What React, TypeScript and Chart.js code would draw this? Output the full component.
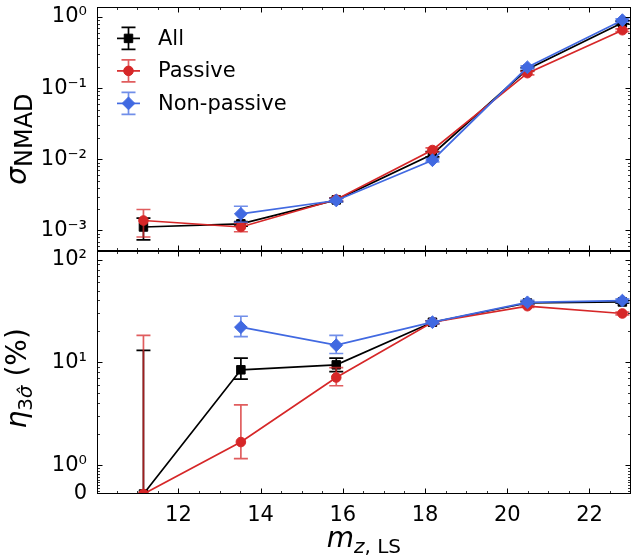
import React, { useEffect, useRef } from 'react';
import { Chart, registerables, Scale } from 'chart.js';

// ---------------- data ----------------
const X_VALUES = [11.15, 13.52, 15.84, 18.18, 20.49, 22.8];
const X_TICKS = [12, 14, 16, 18, 20, 22];

const SIG_TICKS = [1e-3, 1e-2, 1e-1, 1];
const SIG_TICK_LABELS = ['10⁻³', '10⁻²', '10⁻¹', '10⁰'];
const ETA_TICKS = [0, 1, 10, 100];
const ETA_TICK_LABELS = ['0', '10⁰', '10¹', '10²'];

const SERIES_LABELS = ['All', 'Passive', 'Non-passive'];

// sigma_NMAD (top panel)
const SIG_ALL = [0.00112, 0.00124, 0.00269, 0.0118, 0.184, 0.83];
const SIG_ALL_LO = [0.00074, 0.00115, 0.00255, 0.0108, 0.175, 0.8];
const SIG_ALL_HI = [0.00149, 0.00133, 0.00285, 0.0128, 0.194, 0.87];

const SIG_PAS = [0.00138, 0.00112, 0.00272, 0.0135, 0.162, 0.65];
const SIG_PAS_LO = [0.00081, 0.00096, 0.0026, 0.0127, 0.153, 0.62];
const SIG_PAS_HI = [0.00197, 0.00127, 0.00285, 0.0145, 0.172, 0.68];

const SIG_NON = [null, 0.00171, 0.00264, 0.0097, 0.196, 0.9];
const SIG_NON_LO = [null, 0.00131, 0.0025, 0.0092, 0.186, 0.86];
const SIG_NON_HI = [null, 0.00219, 0.0028, 0.0102, 0.206, 0.94];

// eta_3sigma (%) (bottom panel)
const ETA_ALL = [0, 8.47, 9.46, 24.6, 37.8, 38.7];
const ETA_ALL_LO = [0, 6.88, 8.15, 23.8, 36.6, 37.6];
const ETA_ALL_HI = [13.1, 11.0, 11.0, 25.4, 39.0, 39.8];

const ETA_PAS = [0, 1.68, 7.13, 24.6, 35.2, 29.9];
const ETA_PAS_LO = [0, 1.16, 5.93, 23.8, 34.2, 29.0];
const ETA_PAS_HI = [18.3, 3.86, 8.9, 25.4, 36.3, 30.8];

const ETA_NON = [null, 22.0, 14.7, 24.6, 38.4, 39.9];
const ETA_NON_LO = [null, 17.8, 12.2, 23.8, 36.8, 38.4];
const ETA_NON_HI = [null, 28.1, 18.3, 25.4, 40.1, 41.5];

// ---------------- styling ----------------
const FONT = "'DejaVu Sans', sans-serif";
const BLACK = '#000000';
const RED = '#d62728';
const BLUE = '#4169e1';
const RED_ERR = 'rgba(214,39,40,0.75)';
const BLUE_ERR = 'rgba(65,105,225,0.75)';
const CAP = 7;
const LINE_W = 1.7;
const R_SQ = 6;
const R_CI = 4.8;
const R_DI = 6.4;

// ---------------- symlog scale ----------------
const LIN_FRAC = 0.28;
const symT = (v: number) => {
  const a = Math.abs(v);
  return a <= 1 ? v * LIN_FRAC : Math.sign(v) * (LIN_FRAC + Math.log10(a));
};
const symInv = (t: number) => {
  const a = Math.abs(t);
  return a <= LIN_FRAC ? t / LIN_FRAC : Math.sign(t) * Math.pow(10, a - LIN_FRAC);
};

class SymlogScale extends Scale {
  static id = 'symlog';
  static defaults = {};
  parse(raw: any) {
    if (raw === null || raw === undefined) return null;
    const v = +raw;
    return Number.isFinite(v) ? v : null;
  }
  determineDataLimits() {
    const { min, max } = (this as any).getMinMax(true);
    (this as any).min = Number.isFinite(min) ? min : 0;
    (this as any).max = Number.isFinite(max) ? max : 1;
  }
  buildTicks() {
    return [{ value: (this as any).min }, { value: (this as any).max }];
  }
  getLabelForValue(v: number) {
    return String(v);
  }
  getPixelForValue(v: number) {
    const t0 = symT((this as any).min);
    const t1 = symT((this as any).max);
    return (this as any).getPixelForDecimal((symT(v) - t0) / (t1 - t0));
  }
  getValueForPixel(p: number) {
    const t0 = symT((this as any).min);
    const t1 = symT((this as any).max);
    return symInv(t0 + (this as any).getDecimalForPixel(p) * (t1 - t0));
  }
}

Chart.register(...registerables, SymlogScale as any);

// ---------------- helpers ----------------
function drawMarker(ctx: CanvasRenderingContext2D, style: string, x: number, y: number, r: number, color: string) {
  ctx.beginPath();
  if (style === 'rect') {
    const s = r * Math.SQRT1_2;
    ctx.rect(x - s, y - s, 2 * s, 2 * s);
  } else if (style === 'rectRot') {
    ctx.moveTo(x, y - r);
    ctx.lineTo(x + r, y);
    ctx.lineTo(x, y + r);
    ctx.lineTo(x - r, y);
    ctx.closePath();
  } else {
    ctx.arc(x, y, r, 0, Math.PI * 2);
  }
  ctx.fillStyle = color;
  ctx.fill();
  ctx.lineWidth = 1;
  ctx.strokeStyle = color;
  ctx.stroke();
}

type Part = { text: string; font: string; dy?: number };
function partsWidth(ctx: CanvasRenderingContext2D, parts: Part[]) {
  let w = 0;
  for (const p of parts) {
    ctx.font = p.font;
    w += ctx.measureText(p.text).width;
  }
  return w;
}
function drawParts(ctx: CanvasRenderingContext2D, parts: Part[], x0: number, base: number) {
  let x = x0;
  ctx.textBaseline = 'alphabetic';
  ctx.textAlign = 'left';
  for (const p of parts) {
    ctx.font = p.font;
    ctx.fillText(p.text, x, base + (p.dy || 0));
    x += ctx.measureText(p.text).width;
  }
}

const BIG = 28;
const SUB = 20;
const SUB_DY = 6;

// ---------------- plugins ----------------
const errorBarPlugin = {
  id: 'errorBars',
  beforeDatasetDraw(chart: any, args: any) {
    const ds = chart.data.datasets[args.index];
    if (!ds.errLo) return;
    const xs = args.meta.xScale;
    const ys = args.meta.yScale;
    const ctx: CanvasRenderingContext2D = chart.ctx;
    ctx.save();
    ctx.beginPath();
    ctx.rect(xs.left, ys.top, xs.right - xs.left, ys.bottom - ys.top);
    ctx.clip();
    ctx.strokeStyle = ds.errColor;
    ctx.lineWidth = LINE_W;
    ctx.beginPath();
    ds.data.forEach((p: any, i: number) => {
      const lo = ds.errLo[i];
      const hi = ds.errHi[i];
      if (p.y == null || lo == null || hi == null) return;
      const px = xs.getPixelForValue(p.x);
      const y1 = ys.getPixelForValue(lo);
      const y2 = ys.getPixelForValue(hi);
      ctx.moveTo(px, y1);
      ctx.lineTo(px, y2);
      ctx.moveTo(px - CAP, y1);
      ctx.lineTo(px + CAP, y1);
      ctx.moveTo(px - CAP, y2);
      ctx.lineTo(px + CAP, y2);
    });
    ctx.stroke();
    ctx.restore();
  },
};

const decorPlugin = {
  id: 'decor',
  afterDraw(chart: any) {
    const ctx: CanvasRenderingContext2D = chart.ctx;
    const xs = chart.scales.x;
    const yT = chart.scales.yTop;
    const yB = chart.scales.yBot;
    const L = Math.round(xs.left) + 0.5;
    const R = Math.round(xs.right) - 0.5;
    ctx.save();
    ctx.strokeStyle = BLACK;

    const panels = [yT, yB];
    // frames
    ctx.lineWidth = 1;
    for (const ys of panels) {
      const t = Math.round(ys.top) + 0.5;
      const b = Math.round(ys.bottom) - 0.5;
      ctx.strokeRect(L, t, R - L, b - t);
    }

    const MAJ = 5.5;
    const MIN = 3;
    const seg = (x1: number, y1: number, x2: number, y2: number) => {
      ctx.moveTo(x1, y1);
      ctx.lineTo(x2, y2);
    };
    const snap = (v: number) => Math.round(v) + 0.5;

    // x ticks
    const xMinor: number[] = [];
    for (let v = 10.5; v < 23; v += 0.5) if (!X_TICKS.includes(v) && v > xs.min) xMinor.push(v);
    for (const ys of panels) {
      const t = Math.round(ys.top);
      const b = Math.round(ys.bottom);
      ctx.lineWidth = 1;
      ctx.beginPath();
      for (const v of X_TICKS) {
        const px = snap(xs.getPixelForValue(v));
        seg(px, t, px, t + MAJ);
        seg(px, b, px, b - MAJ);
      }
      ctx.stroke();
      ctx.lineWidth = 0.8;
      ctx.beginPath();
      for (const v of xMinor) {
        const px = snap(xs.getPixelForValue(v));
        seg(px, t, px, t + MIN);
        seg(px, b, px, b - MIN);
      }
      ctx.stroke();
    }

    // y ticks
    const Lx = Math.round(xs.left);
    const Rx = Math.round(xs.right);
    const yTicks = (ys: any, majors: number[], minors: number[]) => {
      ctx.lineWidth = 1;
      ctx.beginPath();
      for (const v of majors) {
        const py = ys.getPixelForValue(v);
        if (py < ys.top + 0.5 || py > ys.bottom - 0.5) continue;
        const y = snap(py);
        seg(Lx, y, Lx + MAJ, y);
        seg(Rx, y, Rx - MAJ, y);
      }
      ctx.stroke();
      ctx.lineWidth = 0.8;
      ctx.beginPath();
      for (const v of minors) {
        const py = ys.getPixelForValue(v);
        if (py < ys.top + 0.5 || py > ys.bottom - 0.5) continue;
        const y = snap(py);
        seg(Lx, y, Lx + MIN, y);
        seg(Rx, y, Rx - MIN, y);
      }
      ctx.stroke();
    };
    const topMinor: number[] = [];
    for (let d = -4; d <= 0; d++) for (let k = 2; k <= 9; k++) {
      const v = k * Math.pow(10, d);
      if (v > yT.min && v < yT.max) topMinor.push(v);
    }
    yTicks(yT, SIG_TICKS, topMinor);
    const botMinor: number[] = [];
    for (let k = 1; k <= 9; k++) botMinor.push(k / 10);
    for (let d = 0; d <= 2; d++) for (let k = 2; k <= 9; k++) {
      const v = k * Math.pow(10, d);
      if (v < yB.max) botMinor.push(v);
    }
    yTicks(yB, ETA_TICKS, botMinor);

    // legend
    const styles = ['rect', 'circle', 'rectRot'];
    const colors = [BLACK, RED, BLUE];
    const errColors = [BLACK, RED_ERR, BLUE_ERR];
    const radii = [R_SQ, R_CI, R_DI];
    const hx = xs.left + 31.5;
    SERIES_LABELS.forEach((lab, i) => {
      const y = yT.top + 31 + i * 32.5;
      ctx.lineWidth = LINE_W;
      ctx.strokeStyle = errColors[i];
      ctx.beginPath();
      seg(hx, y - 11, hx, y + 11);
      seg(hx - CAP, y - 11, hx + CAP, y - 11);
      seg(hx - CAP, y + 11, hx + CAP, y + 11);
      ctx.stroke();
      ctx.strokeStyle = colors[i];
      ctx.beginPath();
      seg(hx - 11.5, y, hx + 11.5, y);
      ctx.stroke();
      drawMarker(ctx, styles[i], hx, y, radii[i], colors[i]);
      ctx.fillStyle = BLACK;
      ctx.font = `21px ${FONT}`;
      ctx.textAlign = 'left';
      ctx.textBaseline = 'middle';
      ctx.fillText(lab, hx + 29.5, y + 1);
    });

    // axis titles
    ctx.fillStyle = BLACK;
    const it = (s: number) => `italic ${s}px ${FONT}`;
    const up = (s: number) => `${s}px ${FONT}`;
    const sigParts: Part[] = [
      { text: 'σ', font: it(BIG) },
      { text: 'NMAD', font: up(24), dy: SUB_DY },
    ];
    const etaParts: Part[] = [
      { text: 'η', font: it(BIG) },
      { text: '3', font: up(SUB), dy: SUB_DY },
      { text: 'σ\u0302', font: it(SUB), dy: SUB_DY },
      { text: ' (%)', font: up(BIG) },
    ];
    const mParts: Part[] = [
      { text: 'm', font: it(BIG) },
      { text: 'z', font: it(SUB), dy: SUB_DY },
      { text: ', LS', font: up(SUB), dy: SUB_DY },
    ];
    const rotTitle = (parts: Part[], cy: number) => {
      ctx.save();
      ctx.translate(26, cy);
      ctx.rotate(-Math.PI / 2);
      const w = partsWidth(ctx, parts);
      drawParts(ctx, parts, -w / 2, 0);
      ctx.restore();
    };
    rotTitle(sigParts, (yT.top + yT.bottom) / 2 + 10);
    rotTitle(etaParts, (yB.top + yB.bottom) / 2 + 6);
    const mw = partsWidth(ctx, mParts);
    drawParts(ctx, mParts, (xs.left + xs.right) / 2 - mw / 2, 547);

    ctx.restore();
  },
};

// ---------------- chart ----------------
function points(vals: (number | null)[]) {
  return X_VALUES.map((x, i) => ({ x, y: vals[i] }));
}

function series(label: string, axis: string, vals: (number | null)[], lo: (number | null)[], hi: (number | null)[], color: string, errColor: string, style: string, r: number, order: number) {
  return {
    label,
    yAxisID: axis,
    xAxisID: 'x',
    data: points(vals),
    errLo: lo,
    errHi: hi,
    errColor,
    borderColor: color,
    backgroundColor: color,
    borderWidth: LINE_W,
    pointStyle: style,
    pointRadius: r,
    pointBorderWidth: 1,
    pointBackgroundColor: color,
    pointBorderColor: color,
    tension: 0,
    fill: false,
    order,
  };
}

function tickLabel(ticks: number[], labels: string[]) {
  return (v: number) => {
    const i = ticks.findIndex((t) => Math.abs(t - v) <= Math.abs(t) * 1e-6 + 1e-12);
    return i >= 0 ? labels[i] : '';
  };
}

function fitY(s: any) {
  s.width = 97;
  s.paddingTop = 0;
  s.paddingBottom = 0;
}

function makeConfig(): any {
  const tickFont = { family: FONT, size: 21 };
  return {
    type: 'line',
    data: {
      datasets: [
        series(SERIES_LABELS[0], 'yTop', SIG_ALL, SIG_ALL_LO, SIG_ALL_HI, BLACK, BLACK, 'rect', R_SQ, 3),
        series(SERIES_LABELS[1], 'yTop', SIG_PAS, SIG_PAS_LO, SIG_PAS_HI, RED, RED_ERR, 'circle', R_CI, 2),
        series(SERIES_LABELS[2], 'yTop', SIG_NON, SIG_NON_LO, SIG_NON_HI, BLUE, BLUE_ERR, 'rectRot', R_DI, 1),
        series(SERIES_LABELS[0], 'yBot', ETA_ALL, ETA_ALL_LO, ETA_ALL_HI, BLACK, BLACK, 'rect', R_SQ, 3),
        series(SERIES_LABELS[1], 'yBot', ETA_PAS, ETA_PAS_LO, ETA_PAS_HI, RED, RED_ERR, 'circle', R_CI, 2),
        series(SERIES_LABELS[2], 'yBot', ETA_NON, ETA_NON_LO, ETA_NON_HI, BLUE, BLUE_ERR, 'rectRot', R_DI, 1),
      ],
    },
    options: {
      animation: false,
      responsive: false,
      maintainAspectRatio: false,
      devicePixelRatio: 1,
      events: [],
      layout: { padding: { top: 6, right: 1, left: 0, bottom: 0 } },
      plugins: { legend: { display: false }, tooltip: { enabled: false } },
      scales: {
        x: {
          type: 'linear',
          position: 'bottom',
          min: 10.02,
          max: 23,
          grid: { display: false, drawTicks: false },
          border: { display: false },
          ticks: { font: tickFont, color: BLACK, padding: 9, autoSkip: false, maxRotation: 0, callback: (v: number) => String(v) },
          afterBuildTicks: (s: any) => {
            s.ticks = X_TICKS.map((v) => ({ value: v }));
          },
          afterFit: (s: any) => {
            s.height = 65;
            s.paddingLeft = 0;
            s.paddingRight = 0;
          },
        },
        yBot: {
          type: 'symlog',
          position: 'left',
          stack: 'panels',
          stackWeight: 1,
          weight: 1,
          min: 0,
          max: 122,
          grid: { display: false, drawTicks: false },
          border: { display: false },
          ticks: { font: tickFont, color: BLACK, padding: 10, autoSkip: false, callback: tickLabel(ETA_TICKS, ETA_TICK_LABELS) },
          afterBuildTicks: (s: any) => {
            s.ticks = ETA_TICKS.map((v) => ({ value: v }));
          },
          afterFit: fitY,
        },
        yTop: {
          type: 'logarithmic',
          position: 'left',
          stack: 'panels',
          stackWeight: 1,
          weight: 2,
          min: 5.2e-4,
          max: 1.36,
          grid: { display: false, drawTicks: false },
          border: { display: false },
          ticks: { font: tickFont, color: BLACK, padding: 10, autoSkip: false, callback: tickLabel(SIG_TICKS, SIG_TICK_LABELS) },
          afterBuildTicks: (s: any) => {
            s.ticks = SIG_TICKS.map((v) => ({ value: v }));
          },
          afterFit: fitY,
        },
      },
    },
    plugins: [errorBarPlugin, decorPlugin],
  };
}

export default function App() {
  const ref = useRef<HTMLCanvasElement>(null);
  useEffect(() => {
    if (!ref.current) return;
    const chart = new Chart(ref.current, makeConfig());
    return () => chart.destroy();
  }, []);
  return (
    <div style={{ position: 'fixed', left: 0, top: 0, width: 636, height: 559, overflow: 'hidden', background: '#ffffff' }}>
      <canvas ref={ref} width={638} height={559} style={{ display: 'block', width: 638, height: 559 }} />
    </div>
  );
}
